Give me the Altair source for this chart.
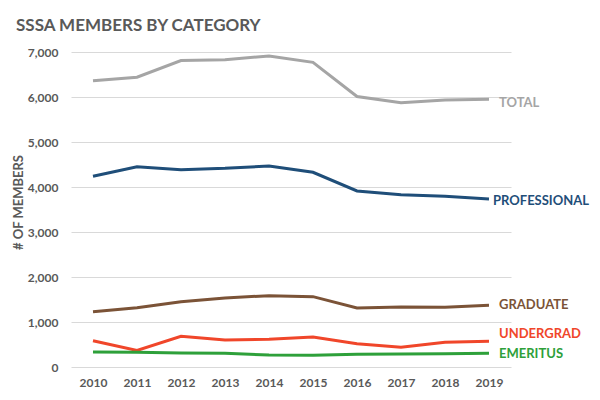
import altair as alt
import pandas as pd

years = ["2010", "2011", "2012", "2013", "2014", "2015", "2016", "2017", "2018", "2019"]
total = [6360, 6440, 6810, 6830, 6910, 6770, 6010, 5875, 5935, 5950]
professional = [4237, 4452, 4385, 4415, 4467, 4326, 3911, 3830, 3793, 3733]
graduate = [1230, 1319, 1452, 1533, 1585, 1563, 1311, 1333, 1328, 1370]
undergrad = [585, 370, 681, 600, 615, 667, 519, 437, 548, 570]
emeritus = [333, 326, 311, 304, 267, 259, 281, 289, 296, 304]

series = ["TOTAL", "PROFESSIONAL", "GRADUATE", "UNDERGRAD", "EMERITUS"]
colors = ["#A5A5A5", "#1F4E79", "#7B5337", "#F0462A", "#2EA03A"]
label_dy = [4, 2, 0, -7, 1]
label_dx = [10, 4, 10, 10, 10]

values = [total, professional, graduate, undergrad, emeritus]
rows = []
for name, vals in zip(series, values):
    for yr, v in zip(years, vals):
        rows.append({"year": yr, "members": v, "category": name})
df = pd.DataFrame(rows)

FONT = "Lato"
GREY = "#595959"

x = alt.X("year:O", scale=alt.Scale(type="point", padding=0.5),
          axis=alt.Axis(title=None, labelAngle=0, ticks=False, domain=False,
                        labelFont=FONT, labelFontWeight="bold", labelFontSize=12,
                        labelColor=GREY, labelPadding=10))
y = alt.Y("members:Q", scale=alt.Scale(domain=[0, 7000], nice=False),
          axis=alt.Axis(title="# OF MEMBERS", values=[0, 1000, 2000, 3000, 4000, 5000, 6000, 7000],
                        format=",.0f", ticks=False, domain=False, gridColor="#D9D9D9",
                        labelFont=FONT, labelFontWeight="bold", labelFontSize=12,
                        labelColor=GREY, labelPadding=13,
                        titleFont=FONT, titleFontWeight="bold", titleFontSize=13,
                        titleColor=GREY, titleX=-46, titleY=150, titleAngle=270,
                        titleAlign="center", titleBaseline="bottom"))

color = alt.Color("category:N", scale=alt.Scale(domain=series, range=colors), legend=None)

lines = alt.Chart(df).mark_line(strokeWidth=3).encode(x=x, y=y, color=color)

layers = [lines]
for name, c, dy, dx in zip(series, colors, label_dy, label_dx):
    last = df[(df.category == name) & (df.year == years[-1])]
    layers.append(
        alt.Chart(last).mark_text(align="left", baseline="middle", dx=dx, dy=dy,
                                  font=FONT, fontWeight="bold", fontSize=13, color=c)
        .encode(x=alt.X("year:O"), y=alt.Y("members:Q"), text="category:N")
    )

chart = alt.layer(*layers).properties(
    width=440, height=315,
    title=alt.TitleParams("SSSA MEMBERS BY CATEGORY", anchor="start", frame="group",
                          font=FONT, fontSize=17, fontWeight="bold", color=GREY,
                          offset=11, dx=-55),
    autosize=alt.AutoSizeParams(type="none"),
    padding={"left": 63, "top": 44, "right": 81, "bottom": 25},
).configure_view(stroke=None)

chart.save("out.html", embed_options={"renderer": "svg", "actions": False})
